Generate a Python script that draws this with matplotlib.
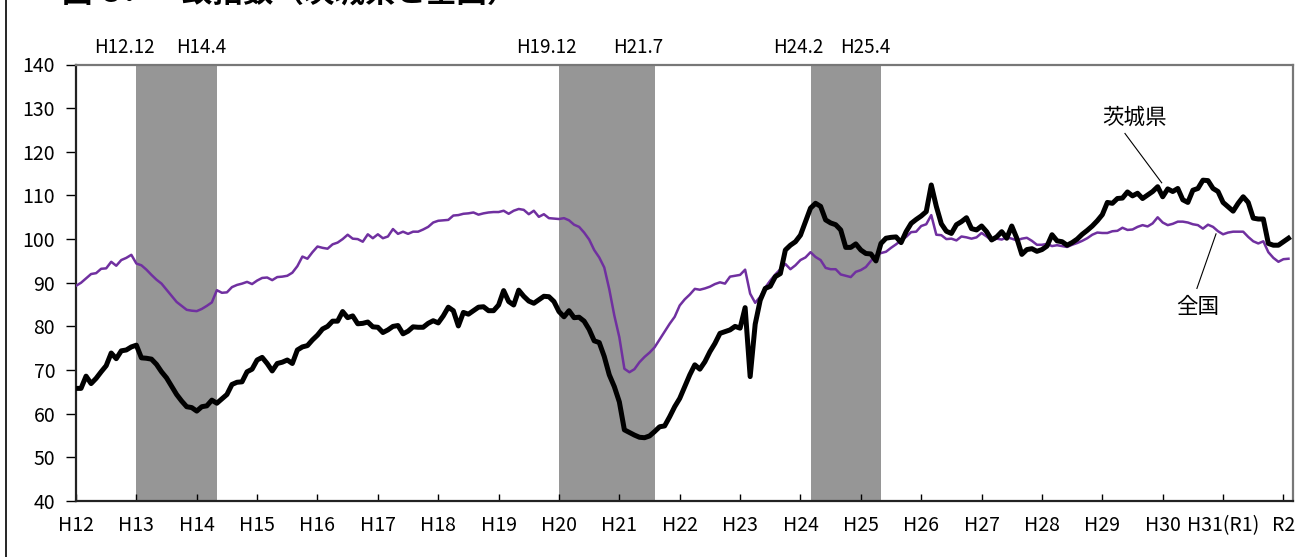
import numpy as np
import matplotlib
matplotlib.use("Agg")
import matplotlib.pyplot as plt
from matplotlib.lines import Line2D

plt.rcParams["font.family"] = ["Noto Sans CJK JP", "DejaVu Sans"]

# monthly coincident index, H12.1 - R2.2
ibaraki = [
    65.8, 65.8, 68.6, 66.9, 68.1, 69.6, 71.0, 73.9, 72.6, 74.4, 74.6, 75.3,   # H12
    75.7, 72.8, 72.7, 72.5, 71.3, 69.6, 68.2, 66.3, 64.4, 62.9, 61.6, 61.4,   # H13
    60.6, 61.6, 61.8, 63.1, 62.4, 63.4, 64.4, 66.7, 67.2, 67.3, 69.6, 70.2,   # H14
    72.3, 72.9, 71.5, 69.8, 71.5, 71.8, 72.3, 71.5, 74.6, 75.3, 75.6, 76.9,   # H15
    78.0, 79.4, 80.0, 81.2, 81.2, 83.4, 82.0, 82.4, 80.6, 80.7, 81.0, 79.9,   # H16
    79.8, 78.6, 79.2, 80.0, 80.2, 78.3, 78.9, 79.9, 79.8, 79.8, 80.7, 81.3,   # H17
    80.8, 82.4, 84.4, 83.6, 80.1, 83.2, 82.8, 83.6, 84.4, 84.5, 83.6, 83.6,   # H18
    84.9, 88.2, 85.7, 84.9, 88.3, 86.9, 85.8, 85.3, 86.1, 86.9, 86.8, 85.7,   # H19
    83.4, 82.2, 83.6, 82.0, 82.1, 81.2, 79.3, 76.7, 76.3, 73.1, 68.9, 66.2,   # H20
    62.7, 56.3, 55.7, 55.1, 54.6, 54.5, 54.9, 55.9, 57.0, 57.2, 59.3, 61.6,   # H21
    63.5, 66.2, 68.9, 71.2, 70.2, 71.9, 74.2, 76.1, 78.4, 78.8, 79.2, 80.0,   # H22
    79.6, 84.3, 68.5, 80.5, 86.0, 88.7, 89.2, 91.4, 92.1, 97.5, 98.6, 99.4,   # H23
    100.9, 104.0, 107.1, 108.2, 107.5, 104.4, 103.7, 103.3, 102.1, 98.1, 98.1, 98.9,  # H24
    97.5, 96.7, 96.6, 95.0, 99.0, 100.2, 100.4, 100.5, 99.2, 101.7, 103.6, 104.5,   # H25
    105.3, 106.3, 112.4, 107.5, 103.5, 101.8, 101.3, 103.3, 104.0, 104.9, 102.4, 102.1,  # H26
    103.0, 101.7, 99.8, 100.5, 101.7, 100.2, 103.0, 100.2, 96.5, 97.6, 97.8, 97.2,  # H27
    97.6, 98.4, 101.0, 99.6, 99.4, 98.6, 99.2, 100.0, 101.1, 102.0, 103.0, 104.2,   # H28
    105.6, 108.4, 108.2, 109.3, 109.4, 110.8, 109.9, 110.5, 109.3, 110.1, 110.9, 112.0,  # H29
    109.7, 111.5, 110.9, 111.6, 109.0, 108.4, 111.2, 111.6, 113.5, 113.4, 111.6, 110.9,  # H30
    108.4, 107.4, 106.4, 108.2, 109.7, 108.4, 104.8, 104.6, 104.6, 99.0, 98.6, 98.6,  # H31
    99.4, 100.2,  # R2
]

zenkoku = [
    89.3, 90.0, 91.0, 92.0, 92.2, 93.2, 93.3, 94.8, 93.9, 95.2, 95.7, 96.4,   # H12
    94.4, 94.0, 93.0, 91.8, 90.7, 89.8, 88.4, 87.0, 85.6, 84.7, 83.8, 83.6,   # H13
    83.5, 84.0, 84.7, 85.5, 88.3, 87.7, 87.8, 89.0, 89.5, 89.8, 90.2, 89.7,   # H14
    90.5, 91.1, 91.2, 90.6, 91.3, 91.4, 91.6, 92.3, 93.8, 96.0, 95.5, 97.0,   # H15
    98.3, 98.0, 97.8, 98.8, 99.2, 100.0, 101.0, 100.1, 100.0, 99.4, 101.1, 100.2,  # H16
    101.1, 100.2, 100.6, 102.3, 101.2, 101.7, 101.2, 101.7, 101.7, 102.2, 102.8, 103.8,  # H17
    104.2, 104.3, 104.4, 105.4, 105.5, 105.8, 105.9, 106.1, 105.6, 105.9, 106.1, 106.2,  # H18
    106.2, 106.5, 105.8, 106.5, 106.9, 106.7, 105.7, 106.5, 105.1, 105.7, 104.8, 104.7,  # H19
    104.6, 104.8, 104.3, 103.3, 102.8, 101.5, 99.9, 97.5, 95.8, 93.5, 88.5, 82.5,   # H20
    77.5, 70.3, 69.5, 70.2, 71.8, 73.0, 74.0, 75.2, 77.0, 78.8, 80.6, 82.2,   # H21
    84.8, 86.2, 87.3, 88.6, 88.4, 88.7, 89.1, 89.7, 90.1, 89.8, 91.4, 91.6,   # H22
    91.8, 93.0, 87.5, 85.4, 86.8, 88.9, 90.5, 91.9, 93.1, 94.3, 93.1, 94.0,   # H23
    95.2, 95.8, 97.0, 95.9, 95.2, 93.4, 93.1, 93.1, 91.9, 91.6, 91.3, 92.5,   # H24
    92.9, 93.6, 95.0, 96.2, 96.8, 97.1, 98.0, 98.8, 99.7, 100.5, 101.6, 101.7,   # H25
    103.0, 103.4, 105.5, 101.0, 100.9, 100.0, 100.1, 99.7, 100.6, 100.4, 100.1, 100.4,  # H26
    101.4, 100.6, 99.7, 100.1, 99.9, 100.4, 100.1, 99.7, 100.1, 100.3, 99.6, 98.7,  # H27
    98.7, 98.9, 98.4, 98.6, 98.4, 98.2, 98.7, 99.1, 99.6, 100.2, 101.0, 101.5,   # H28
    101.4, 101.4, 101.8, 101.9, 102.6, 102.1, 102.2, 102.8, 103.2, 102.9, 103.6, 105.0,  # H29
    103.8, 103.2, 103.5, 104.0, 104.0, 103.8, 103.4, 103.2, 102.4, 103.3, 102.8, 101.8,  # H30
    101.1, 101.5, 101.7, 101.7, 101.7, 100.5, 99.5, 99.0, 99.5, 97.0, 95.7, 94.8,   # H31
    95.4, 95.5,  # R2
]

year_labels = ["H12", "H13", "H14", "H15", "H16", "H17", "H18", "H19", "H20", "H21",
               "H22", "H23", "H24", "H25", "H26", "H27", "H28", "H29", "H30",
               "H31(R1)", "R2"]

# business cycle peaks / troughs (Heisei year, month)
peaks = [(12, 12), (19, 12), (24, 2)]
troughs = [(14, 4), (21, 7), (25, 4)]


def month_index(ym):
    y, m = ym
    return (y - 12) * 12 + (m - 1)


x = np.arange(len(ibaraki))

fig = plt.figure(figsize=(13.13, 5.57), dpi=100)
ax = fig.add_axes([76 / 1313, 1 - 501 / 557, (1293 - 76) / 1313, (501 - 64.5) / 557])

# shaded recession periods
for p, t in zip(peaks, troughs):
    x0 = month_index(p) + 1
    x1 = month_index(t) + 1
    ax.axvspan(x0, x1, color="#969696", lw=0, zorder=1)
    ax.text(x0 - 2.4, 144, "H%d.%d" % p, ha="center", va="center", fontsize=13.5)
    ax.text(x1 - 3.2, 144, "H%d.%d" % t, ha="center", va="center", fontsize=13.5)

ax.plot(x, zenkoku, color="#7030A0", lw=1.8, zorder=3)
ax.plot(x, ibaraki, color="black", lw=3.6, zorder=4)

# labels with leader lines
ax.text(210.3, 127.9, "茨城県", ha="center", va="center", fontsize=15.5)
ax.plot([208.5, 215.8], [124.2, 112.9], color="black", lw=0.8, zorder=5)
ax.text(222.9, 84.4, "全国", ha="center", va="center", fontsize=15.5)
ax.plot([222.8, 226.6], [88.7, 101.2], color="black", lw=0.8, zorder=5)

ax.set_xlim(0, 241.9)
ax.set_ylim(40, 140)
ax.set_yticks(np.arange(40, 141, 10))
ax.set_xticks(np.arange(0, len(year_labels) * 12, 12))
ax.set_xticklabels(year_labels)
ax.tick_params(axis="x", direction="in", length=5, width=1, pad=10, labelsize=14)
ax.tick_params(axis="y", direction="out", length=7, width=1, pad=8, labelsize=14)

for side in ["left", "bottom"]:
    ax.spines[side].set_color("#222222")
    ax.spines[side].set_linewidth(1.6)
for side in ["top", "right"]:
    ax.spines[side].set_color("#777777")
    ax.spines[side].set_linewidth(1.6)

# cut-off title and frame line from the source page
fig.text(62 / 1313, 1 - 9 / 557, "図-3．一致指数（茨城県と全国）", ha="left", va="bottom",
         fontsize=22, fontweight="bold")
fig.add_artist(Line2D([6 / 1313, 6 / 1313], [0, 1], color="black", lw=1.2))

fig.savefig("out.png", dpi=100)
